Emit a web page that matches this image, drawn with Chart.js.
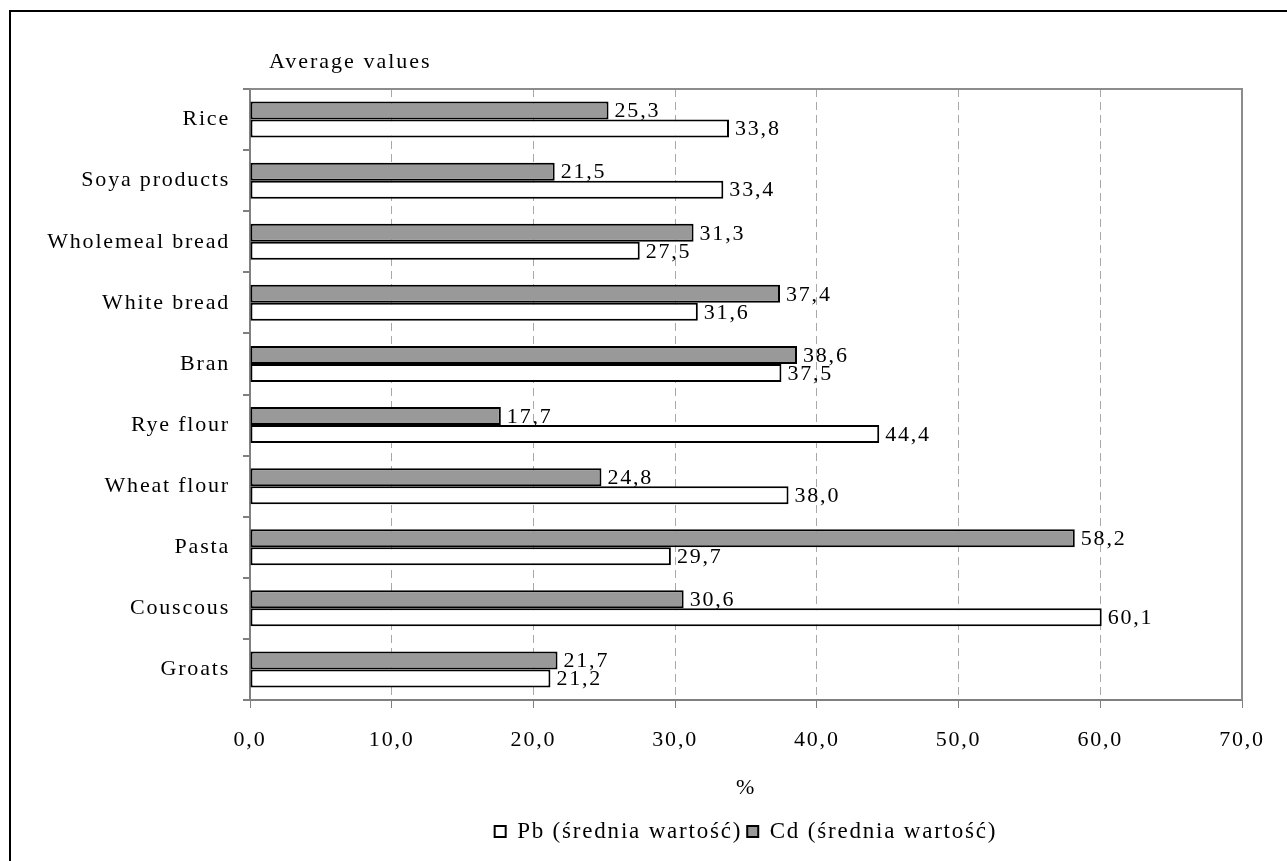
<!DOCTYPE html>
<html>
<head>
<meta charset="utf-8">
<script src="https://cdn.jsdelivr.net/npm/chart.js@4/dist/chart.umd.min.js"></script>
<style>
  html, body { margin: 0; padding: 0; background: #fff; overflow: hidden; }
  #wrap { position: relative; width: 1287px; height: 861px; }
  #frame { position: absolute; left: 9px; top: 10px; width: 1300px; height: 900px;
           border: 2px solid #000; pointer-events: none; box-sizing: border-box; }
  canvas { display: block; }
</style>
</head>
<body>
<div id="wrap">
  <canvas id="chart" width="1287" height="861"></canvas>
  <div id="frame"></div>
</div>
<script>
// Food products, top to bottom
const categories = ['Rice', 'Soya products', 'Wholemeal bread', 'White bread', 'Bran',
                    'Rye flour', 'Wheat flour', 'Pasta', 'Couscous', 'Groats'];
// Lead, average values (%)
const pbValues = [33.8, 33.4, 27.5, 31.6, 37.5, 44.4, 38.0, 29.7, 60.1, 21.2];
// Cadmium, average values (%)
const cdValues = [25.3, 21.5, 31.3, 37.4, 38.6, 17.7, 24.8, 58.2, 30.6, 21.7];
// Value axis ticks
const xTicks = [0, 10, 20, 30, 40, 50, 60, 70];

const pbLabel = 'Pb (średnia wartość)';
const cdLabel = 'Cd (średnia wartość)';
const yTitle = 'Average values';
const xTitle = '%';

const FONT = "'Liberation Serif', 'Times New Roman', serif";
const SIZE = 22;
const TRACK = '1.8px';
const fmt = v => Number(v).toFixed(1).replace('.', ',');

// Wide-tracked serif text throughout
const spacing = {
  id: 'spacing',
  beforeUpdate(c) { c.ctx.letterSpacing = TRACK; },
  beforeLayout(c) { c.ctx.letterSpacing = TRACK; },
  beforeDraw(c) { c.ctx.letterSpacing = TRACK; }
};

// Centre the legend under the plot area rather than the whole canvas
const legendUnderPlot = {
  id: 'legendUnderPlot',
  afterLayout(c) {
    if (c.legend) {
      c.legend.left = c.chartArea.left;
      c.legend.right = c.chartArea.right;
      c.legend.width = c.chartArea.right - c.chartArea.left;
    }
  }
};

// Gray frame on top and right of the plot area
const plotFrame = {
  id: 'plotFrame',
  afterDraw(c) {
    const { ctx, chartArea: a } = c;
    ctx.save();
    ctx.strokeStyle = '#8c8c8c';
    ctx.lineWidth = 2;
    ctx.beginPath();
    ctx.moveTo(a.left, a.top);
    ctx.lineTo(a.right, a.top);
    ctx.lineTo(a.right, a.bottom);
    ctx.stroke();
    ctx.restore();
  }
};

// Heading above the category axis
const heading = {
  id: 'heading',
  afterDraw(c) {
    const { ctx, chartArea: a } = c;
    ctx.save();
    ctx.letterSpacing = '2px';
    ctx.font = `${SIZE}px ${FONT}`;
    ctx.fillStyle = '#000';
    ctx.textAlign = 'left';
    ctx.textBaseline = 'middle';
    ctx.fillText(yTitle, a.left + 19, a.top - 27);
    ctx.restore();
  }
};

// Value labels at the end of each bar
const valueLabels = {
  id: 'valueLabels',
  afterDatasetsDraw(c) {
    const { ctx } = c;
    ctx.save();
    ctx.letterSpacing = TRACK;
    ctx.font = `${SIZE}px ${FONT}`;
    ctx.fillStyle = '#000';
    ctx.textAlign = 'left';
    ctx.textBaseline = 'middle';
    c.data.datasets.forEach((ds, di) => {
      const meta = c.getDatasetMeta(di);
      meta.data.forEach((bar, i) => {
        ctx.fillText(fmt(ds.data[i]), bar.x + 6, bar.y + 1);
      });
    });
    ctx.restore();
  }
};

new Chart(document.getElementById('chart'), {
  type: 'bar',
  data: {
    labels: categories,
    datasets: [
      { label: cdLabel, data: cdValues, backgroundColor: '#999999', borderColor: '#000',
        borderWidth: 2, borderSkipped: false, categoryPercentage: 0.59, barPercentage: 1.0 },
      { label: pbLabel, data: pbValues, backgroundColor: '#ffffff', borderColor: '#000',
        borderWidth: 2, borderSkipped: false, categoryPercentage: 0.59, barPercentage: 1.0 }
    ]
  },
  options: {
    indexAxis: 'y',
    responsive: false,
    animation: false,
    devicePixelRatio: 1,
    layout: { padding: { top: 89, left: 0, right: 45, bottom: 8 } },
    plugins: {
      tooltip: { enabled: false },
      legend: {
        position: 'bottom',
        labels: {
          font: { family: FONT, size: 23 },
          color: '#000',
          boxWidth: 11,
          boxHeight: 11,
          padding: 5,
          sort: (a, b) => b.datasetIndex - a.datasetIndex
        }
      }
    },
    scales: {
      y: {
        type: 'category',
        afterFit: s => { s.width = 250; },
        border: { color: '#808080', width: 2 },
        grid: { offset: true, drawOnChartArea: false, tickLength: 7, tickColor: '#808080', lineWidth: 2 },
        ticks: { color: '#000', font: { family: FONT, size: SIZE }, padding: 13 }
      },
      x: {
        min: 0,
        max: 70,
        afterBuildTicks: s => { s.ticks = xTicks.map(v => ({ value: v })); },
        afterFit: s => { s.height = 115; },
        border: { color: '#808080', width: 2, dash: [8, 5] },
        grid: {
          color: ctx => (ctx.tick && (ctx.tick.value === 0 || ctx.tick.value === 70)) ? 'rgba(0,0,0,0)' : '#a8a8a8',
          tickBorderDash: [],
          tickColor: '#808080',
          tickLength: 8,
          lineWidth: 1
        },
        ticks: { color: '#000', font: { family: FONT, size: SIZE }, padding: 19, callback: v => fmt(v) },
        title: { display: true, text: xTitle, color: '#000', font: { family: FONT, size: SIZE },
                 padding: { top: 10, bottom: 14 } }
      }
    }
  },
  plugins: [spacing, legendUnderPlot, plotFrame, heading, valueLabels]
});
</script>
</body>
</html>
